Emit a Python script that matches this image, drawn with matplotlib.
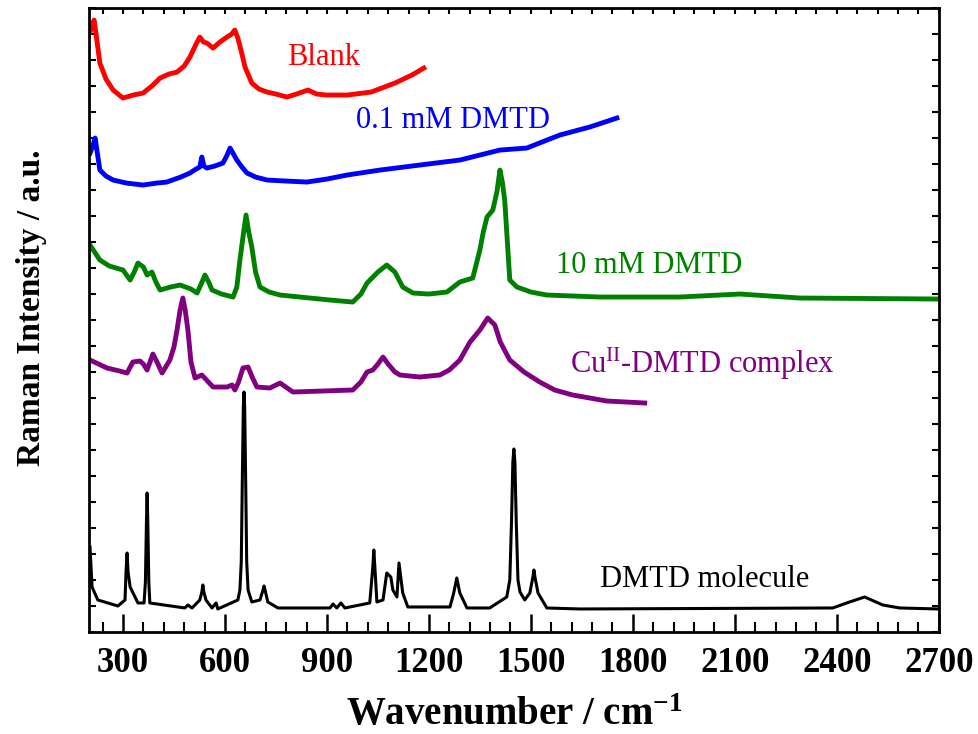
import matplotlib
matplotlib.use('Agg')
import matplotlib.pyplot as plt
from matplotlib.ticker import MultipleLocator

plt.rcParams['font.family'] = ['Liberation Serif', 'DejaVu Serif']
plt.rcParams['mathtext.default'] = 'regular'
plt.rcParams['path.simplify'] = False

# wavenumber (cm-1) / intensity (a.u., stacked offsets included)
blank_x = [203, 209, 215, 220, 232, 250, 271, 300, 330, 359, 385, 409, 435, 459, 480,
           497, 515, 526, 537, 547, 565, 585, 606, 620, 629, 638, 650, 659, 679, 700,
           724, 750, 782, 810, 844, 870, 900, 960, 1030, 1100, 1150, 1185]
blank_y = [600, 605, 612, 600, 569, 553, 542, 534, 537, 539, 546, 554, 558, 560, 566,
           575, 588, 595, 590, 589, 584, 590, 595, 598, 602, 594, 578, 565, 549, 543,
           540, 538, 535, 538, 542, 538, 537, 537, 540, 549, 557, 564]

low_x = [203, 210, 218, 225, 232, 250, 271, 310, 359, 400, 429, 470, 497, 515, 526,
         532, 538, 547, 570, 594, 605, 615, 625, 635, 650, 665, 690, 724, 780, 841,
         900, 959, 1056, 1173, 1291, 1409, 1488, 1585, 1673, 1753]
low_y = [479, 485, 494, 478, 462, 456, 452, 449, 447, 449, 450, 455, 459, 463, 465,
         475, 466, 464, 466, 469, 476, 484, 478, 472, 465, 459, 455, 452, 451, 450,
         453, 457, 462, 467, 472, 482, 484, 497, 505, 514]

high_x = [203, 232, 260, 300, 321, 333, 344, 360, 371, 385, 397, 409, 440, 468, 500,
          518, 530, 541, 552, 562, 590, 624, 635, 644, 653, 662, 670, 679, 690, 703,
          730, 762, 850, 909, 976, 1000, 1018, 1050, 1076, 1100, 1123, 1153, 1200, 1253,
          1291, 1329, 1350, 1360, 1371, 1388, 1400, 1409, 1416, 1423, 1438, 1459, 1500,
          1547, 1703, 1938, 2115, 2291, 2700]
high_y = [387, 372, 366, 362, 352, 360, 369, 365, 357, 360, 350, 342, 345, 347, 343,
          339, 348, 357, 350, 342, 338, 335, 345, 372, 395, 417, 400, 385, 360, 345,
          340, 337, 334, 332, 330, 338, 349, 360, 367, 360, 345, 339, 338, 340,
          350, 354, 382, 400, 415, 422, 440, 462, 450, 432, 352, 345, 340,
          337, 335, 335, 338, 334, 333]

cu_x = [203, 253, 290, 312, 329, 350, 360, 371, 388, 400, 415, 438, 450, 459, 468,
        476, 483, 491, 500, 512, 532, 565, 606, 621, 629, 640, 653, 668, 680, 694,
        732, 762, 800, 976, 1000, 1018, 1035, 1050, 1065, 1080, 1100, 1115, 1173,
        1232, 1260, 1291, 1321, 1350, 1373, 1394, 1410, 1438, 1480, 1526, 1570, 1623,
        1723, 1835]
cu_y = [272, 264, 261, 259, 270, 271, 268, 262, 278, 270, 259, 272, 285, 302, 322,
        334, 322, 302, 270, 254, 257, 245, 245, 247, 242, 250, 264, 265, 255, 245,
        244, 249, 240, 242, 250, 260, 262, 268, 275, 268, 260, 257, 255,
        257, 262, 272, 290, 302, 314, 307, 290, 272, 260, 250, 242, 237,
        231, 229]

mol_x = [203, 209, 226, 285, 306, 309, 312, 315, 321, 344, 362, 366, 369, 371, 373,
         376, 379, 482, 491, 503, 526, 532, 535, 538, 544, 562, 574, 579, 638, 644,
         648, 651, 654, 656, 658, 661, 664, 668, 679, 703, 712, 715, 718, 726, 756,
         909, 918, 929, 941, 953, 1026, 1035, 1038, 1041, 1047, 1065, 1076, 1088, 1094,
         1106, 1112, 1123, 1138, 1262, 1273, 1282, 1291, 1312, 1379, 1388, 1429, 1438,
         1443, 1447, 1450, 1453, 1457, 1462, 1468, 1482, 1497, 1506, 1509, 1512, 1521,
         1547, 1644, 2388, 2429, 2482, 2535, 2585, 2700]
mol_y = [85, 45, 32, 26, 32, 60, 79, 60, 45, 29, 29, 50, 110, 139, 110,
         50, 29, 24, 27, 24, 32, 40, 47, 40, 32, 24, 29, 23, 32, 42,
         70, 150, 225, 240, 225, 150, 70, 42, 30, 32, 42, 46, 42, 30, 24,
         24, 28, 24, 29, 24, 29, 65, 82, 65, 30, 32, 59, 55, 42,
         35, 69, 39, 25, 25, 39, 54, 39, 24, 24, 26, 35, 52,
         110, 170, 183, 170, 110, 52, 40, 32, 39, 55, 62, 55, 39,
         24, 23, 24, 29, 35, 27, 24, 23]

fig = plt.figure(figsize=(9.79, 7.34), dpi=100)
ax = fig.add_axes([0.0909, 0.139, 0.868, 0.850])

ax.plot(blank_x, blank_y, color='red', lw=3.5)
ax.plot(low_x, low_y, color='blue', lw=3.5)
ax.plot(high_x, high_y, color='green', lw=3.5)
ax.plot(cu_x, cu_y, color='purple', lw=3.5)
ax.plot(mol_x, mol_y, color='black', lw=2.2)

ax.text(782, 575, 'Blank', color='red', fontsize=22, va='center')
ax.text(985, 512, '0.1 mM DMTD', color='blue', fontsize=22, va='center')
ax.text(1573, 367, '10 mM DMTD', color='green', fontsize=22, va='center')
ax.text(1615, 268, 'Cu$^{II}$-DMTD complex', color='purple', fontsize=22, va='center')
ax.text(1703, 52, 'DMTD molecule', color='black', fontsize=22, va='center')

ax.set_xlim(200, 2700)
ax.set_ylim(0, 624)
ax.xaxis.set_major_locator(MultipleLocator(300))
ax.xaxis.set_minor_locator(MultipleLocator(60))
ax.yaxis.set_major_locator(MultipleLocator(26))
ax.tick_params(axis='x', which='major', direction='in', length=13, width=1.8,
               labelsize=25, pad=11)
ax.tick_params(axis='x', which='minor', direction='in', length=7, width=1.5)
ax.tick_params(axis='y', direction='in', length=5, width=1.5, left=True, right=True,
               labelleft=False)
for lab in ax.get_xticklabels():
    lab.set_fontweight('bold')
for sp in ax.spines.values():
    sp.set_linewidth(2)

top = ax.secondary_xaxis('top')
top.xaxis.set_major_locator(MultipleLocator(60))
top.tick_params(direction='in', length=4, width=1.5, labeltop=False)

ax.set_xlabel('Wavenumber / cm$^{-1}$', fontsize=28, fontweight='bold', labelpad=12)
ax.set_ylabel('Raman Intensity / a.u.', fontsize=24, fontweight='bold')
ax.yaxis.set_label_coords(-0.05, 0.52)

fig.savefig('out.png', dpi=100)
